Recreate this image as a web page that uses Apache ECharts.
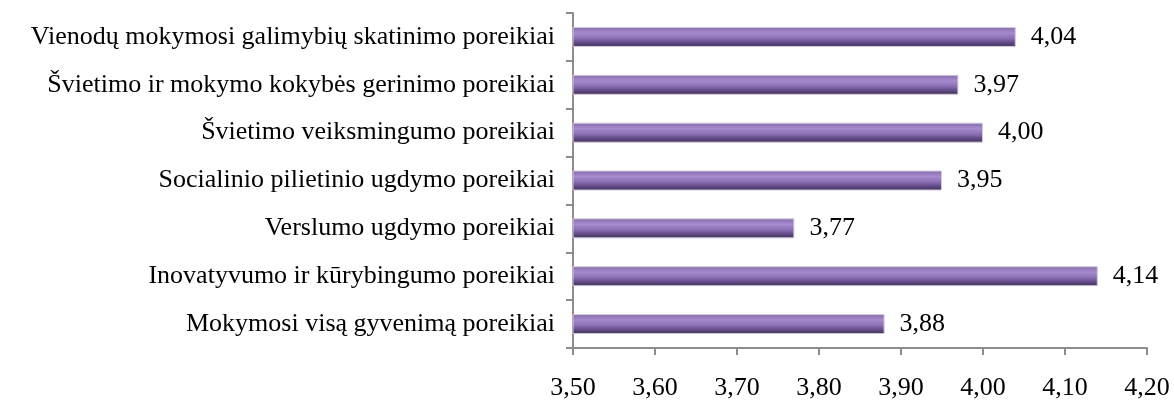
<!DOCTYPE html>
<html>
<head>
<meta charset="utf-8">
<script src="https://cdn.jsdelivr.net/npm/echarts@6/dist/echarts.min.js"></script>
<style>html,body{margin:0;padding:0;background:#fff;}#c{width:1174px;height:401px;}</style>
</head>
<body>
<div id="c"></div>
<script>
var categories = [
  "Vienodų mokymosi galimybių skatinimo poreikiai",
  "Švietimo ir mokymo kokybės gerinimo poreikiai",
  "Švietimo veiksmingumo poreikiai",
  "Socialinio pilietinio ugdymo poreikiai",
  "Verslumo ugdymo poreikiai",
  "Inovatyvumo ir kūrybingumo poreikiai",
  "Mokymosi visą gyvenimą poreikiai"
];
var values = [4.04, 3.97, 4.00, 3.95, 3.77, 4.14, 3.88];
var tickMin = 3.5, tickMax = 4.2, tickStep = 0.1;

var font = "'Liberation Serif', 'Times New Roman', serif";
var chart = echarts.init(document.getElementById('c'));
chart.setOption({
  animation: false,
  grid: {left: 573, right: 27, top: 13, bottom: 52, containLabel: false},
  xAxis: {
    type: 'value', min: tickMin, max: tickMax, interval: tickStep,
    axisLine: {show: true, lineStyle: {color: '#8c8c8c', width: 2}},
    axisTick: {show: true, length: 7, lineStyle: {color: '#8c8c8c', width: 2}},
    splitLine: {show: false},
    axisLabel: {margin: 27, color: '#000', fontFamily: font, fontSize: 26,
      formatter: function (v) { return v.toFixed(2).replace('.', ','); }}
  },
  yAxis: {
    type: 'category', data: categories, inverse: true,
    axisLine: {show: true, lineStyle: {color: '#8c8c8c', width: 2}},
    axisTick: {show: true, length: 7, lineStyle: {color: '#8c8c8c', width: 2}},
    axisLabel: {margin: 18, color: '#000', fontFamily: font, fontSize: 26}
  },
  series: [{
    type: 'bar', data: values, barWidth: 20,
    itemStyle: {
      borderColor: '#d4cadf', borderWidth: 1,
      color: new echarts.graphic.LinearGradient(0, 0, 0, 1, [
        {offset: 0, color: '#866bab'},
        {offset: 0.3, color: '#a68acd'},
        {offset: 0.55, color: '#8e72b8'},
        {offset: 0.8, color: '#604983'},
        {offset: 1, color: '#3e3052'}
      ])
    },
    label: {show: true, position: 'right', distance: 15, color: '#000', fontFamily: font, fontSize: 26,
      formatter: function (p) { return p.value.toFixed(2).replace('.', ','); }}
  }]
});
</script>
</body>
</html>
